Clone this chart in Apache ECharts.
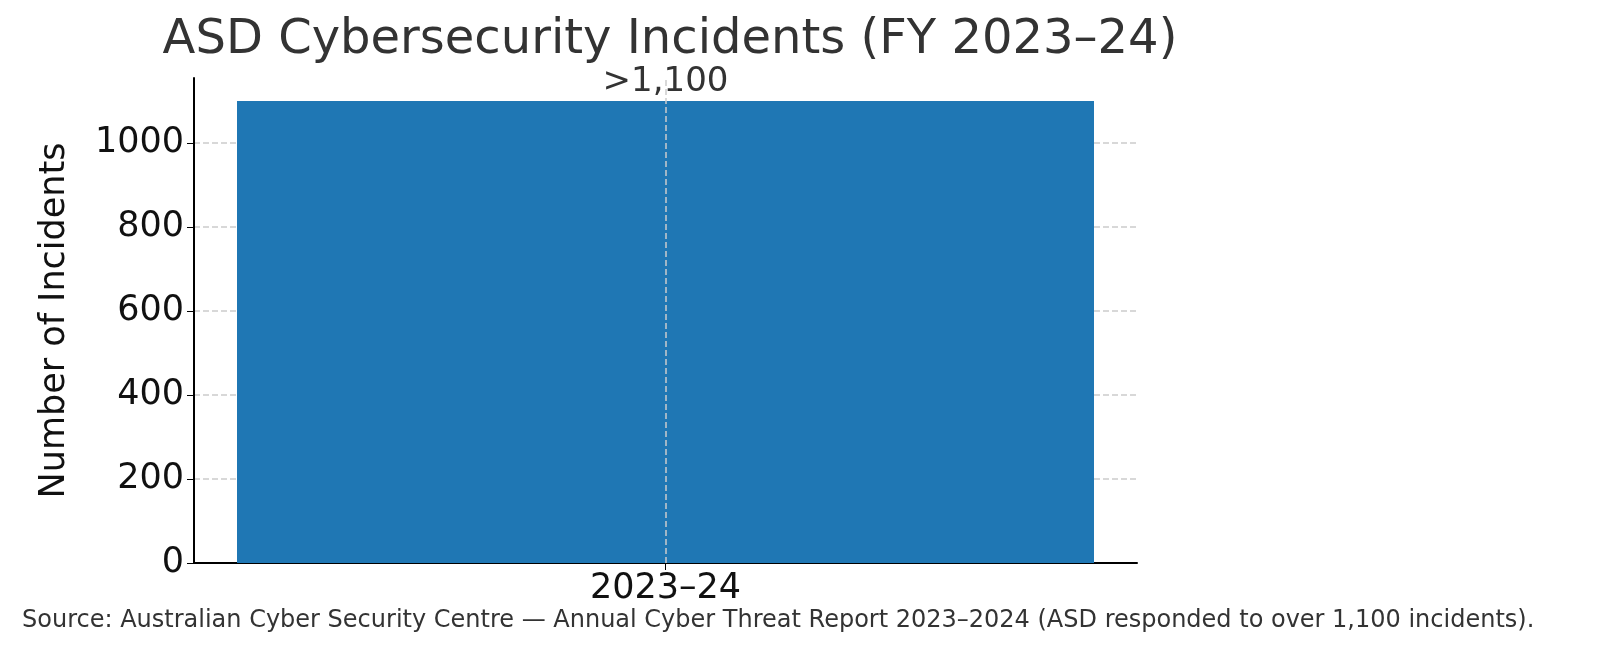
<!DOCTYPE html>
<html><head><meta charset="utf-8">
<script src="https://cdn.jsdelivr.net/npm/echarts@6/dist/echarts.min.js"></script>
<style>html,body{margin:0;padding:0;background:#fff}#main{width:1600px;height:671px}</style>
</head><body><div id="main"></div>
<script>
var categories = ['2023–24'];
var incidents = [1100];
var barLabels = ['>1,100'];
var yTicks = [0, 200, 400, 600, 800, 1000];

var chart = echarts.init(document.getElementById('main'));
var font = 'DejaVu Sans';
chart.setOption({
  animation: false,
  textStyle: { fontFamily: font },
  title: {
    text: 'ASD Cybersecurity Incidents (FY 2023–24)',
    left: 665, textAlign: 'center', top: 12,
    textStyle: { fontFamily: font, fontSize: 48, fontWeight: 'normal', color: '#333' }
  },
  grid: { left: 194, right: 463, top: 78, bottom: 108 },
  xAxis: {
    type: 'category', data: categories,
    axisLine: { lineStyle: { color: '#000', width: 2 } },
    axisTick: { show: true, alignWithLabel: true, length: 7, lineStyle: { color: '#000' } },
    axisLabel: { fontSize: 35, color: '#111', margin: 8 }
  },
  yAxis: {
    type: 'value', min: 0, max: 1155, interval: 200,
    name: 'Number of Incidents', nameLocation: 'middle', nameGap: 122,
    nameTextStyle: { fontSize: 35, color: '#111' },
    axisLine: { show: true, lineStyle: { color: '#000', width: 2 } },
    axisTick: { show: true, length: 7, lineStyle: { color: '#000' } },
    axisLabel: { fontSize: 35, color: '#111', showMaxLabel: false, margin: 10,
      formatter: function (v) { return yTicks.indexOf(v) >= 0 ? String(v) : ''; } },
    splitLine: { show: true, showMaxLine: false, lineStyle: { color: '#ccc', type: 'dashed', width: 1.5 } }
  },
  series: [{
    type: 'bar', data: incidents, barWidth: 857,
    itemStyle: { color: '#1f77b4' },
    label: { show: true, position: 'top', distance: 2, fontSize: 34, color: '#333',
      formatter: function (p) { return barLabels[p.dataIndex]; } },
    markLine: {
      silent: true, symbol: 'none', label: { show: false },
      lineStyle: { color: '#ccc', type: 'dashed', width: 1.5 },
      data: [{ xAxis: categories[0] }]
    }
  }],
  graphic: [{
    type: 'text', left: 22, top: 609,
    style: { text: 'Source: Australian Cyber Security Centre — Annual Cyber Threat Report 2023–2024 (ASD responded to over 1,100 incidents).',
      font: '24px "DejaVu Sans"', fill: '#333' }
  }]
});
</script></body></html>
